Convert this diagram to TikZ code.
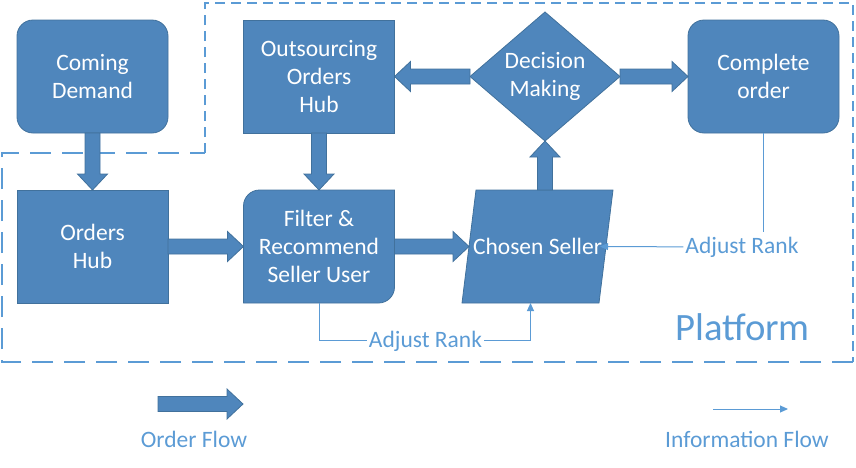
\documentclass[tikz,border=0pt]{standalone}
\usepackage{fontspec}
\setmainfont{Carlito}
\usetikzlibrary{shapes.geometric,arrows.meta,calc}
\pgfdeclarelayer{background}
\pgfsetlayers{background,main}
\definecolor{boxfill}{RGB}{79,134,188}
\definecolor{boxline}{RGB}{65,113,156}
\definecolor{infoc}{RGB}{91,155,213}
\tikzset{
  shapestyle/.style={draw=boxline, fill=boxfill, line width=0.8pt},
  txt/.style={text=white, font=\fontsize{23.5}{28}\selectfont, align=center, inner sep=0pt, outer sep=0pt},
  box/.style={shapestyle, txt, minimum width=151pt, minimum height=113pt},
  rbox/.style={box, rounded corners=16pt},
  plainbox/.style={txt, minimum width=151pt, minimum height=113pt},
  decision/.style={shapestyle, txt, diamond, minimum width=150pt, minimum height=113pt},
  infolabel/.style={text=infoc, font=\fontsize{23.5}{28}\selectfont, inner xsep=2pt, inner ysep=4.5pt, anchor=base},
  infoarrow/.style={draw=infoc, line width=1pt, -{Triangle[length=8pt,width=7pt]}},
  infoline/.style={draw=infoc, line width=1pt},
  platshort/.style={draw=infoc, line width=1.4pt, dash pattern=on 10pt off 6pt},
  platlong/.style={draw=infoc, line width=1.4pt, dash pattern=on 21pt off 11pt},
}
\newcommand{\fatarrow}[2]{%
  \coordinate (fah) at ($(#2)!16pt!(#1)$);
  \filldraw[shapestyle] ($(#1)!7.5pt!90:(#2)$) -- ($(fah)!7.5pt!90:(#2)$) -- ($(fah)!15pt!90:(#2)$) -- (#2)
     -- ($(fah)!15pt!-90:(#2)$) -- ($(fah)!7.5pt!-90:(#2)$) -- ($(#1)!7.5pt!-90:(#2)$) -- cycle;}
\begin{document}
\begin{tikzpicture}[x=1pt,y=-1pt]
\useasboundingbox (0,0) rectangle (856,467);
% platform boundary
\draw[platshort] (205,153) -- (205,3) -- (853,3) -- (853,362);
\draw[platlong] (853,362) -- (2,362) -- (2,153) -- (205,153);
% nodes
\node[rbox] (cd) at (92.5,76.5) {Coming\\Demand};
\node[box] (ooh) at (319,76.5) {Outsourcing\\Orders\\Hub};
\node[decision] (dm) at (545,76.5) {Decision\\Making};
\node[rbox] (co) at (763.5,76.5) {Complete\\order};
\node[box] (oh) at (92.5,246.5) {Orders\\Hub};
\node[plainbox] (fr) at (319,246.5) {Filter \&\\Recommend\\Seller User};
\node[txt, minimum width=137pt, minimum height=113pt] (cs) at (537.5,246.5) {Chosen Seller};
\begin{pgfonlayer}{background}
\filldraw[shapestyle] (fr.south west) -- ([yshift=-16pt]fr.north west) arc[start angle=180,end angle=90,radius=16pt]
   -- (fr.north east) -- ([yshift=16pt]fr.south east) arc[start angle=0,end angle=-90,radius=16pt] -- cycle;
\filldraw[shapestyle] ([xshift=7pt]cs.north west) -- ([xshift=7pt]cs.north east) -- ([xshift=-7pt]cs.south east) -- ([xshift=-7pt]cs.south west) -- cycle;
\end{pgfonlayer}
% order flow
\fatarrow{cd.south}{oh.north}
\fatarrow{ooh.south}{fr.north}
\fatarrow{oh.east}{fr.west}
\fatarrow{fr.east}{cs.west}
\coordinate (cstop) at (cs.north -| dm.south);
\fatarrow{cstop}{dm.south}
\fatarrow{dm.west}{ooh.east}
\fatarrow{dm.east}{co.west}
% information flow
\node[infolabel] (adj1) at (742,253) {Adjust Rank};
\node[infolabel] (adj2) at (425.5,347) {Adjust Rank};
\coordinate (cseast) at ([xshift=-6pt]cs.east);
\coordinate (cssouth) at ([xshift=-7pt]cs.south);
\draw[infoline] (co.south) -- (co.south |- adj1.north);
\draw[infoarrow] (adj1.west) -- (cseast);
\draw[infoline] (fr.south) |- (adj2.west);
\draw[infoarrow] (adj2.east) -| (cssouth);
\node[text=infoc, font=\fontsize{38.7}{44}\selectfont, anchor=base, inner sep=0pt] (plat) at (742.5,340) {Platform};
% legend
\coordinate (lo1) at (158,404);
\coordinate (lo2) at (243,404);
\fatarrow{lo1}{lo2}
\coordinate (li1) at (713,409);
\coordinate (li2) at (788,409);
\draw[infoarrow] (li1) -- (li2);
\node[infolabel] (lof) at (194,447) {Order Flow};
\node[infolabel] (lif) at (747,447) {Information Flow};
\end{tikzpicture}
\end{document}
